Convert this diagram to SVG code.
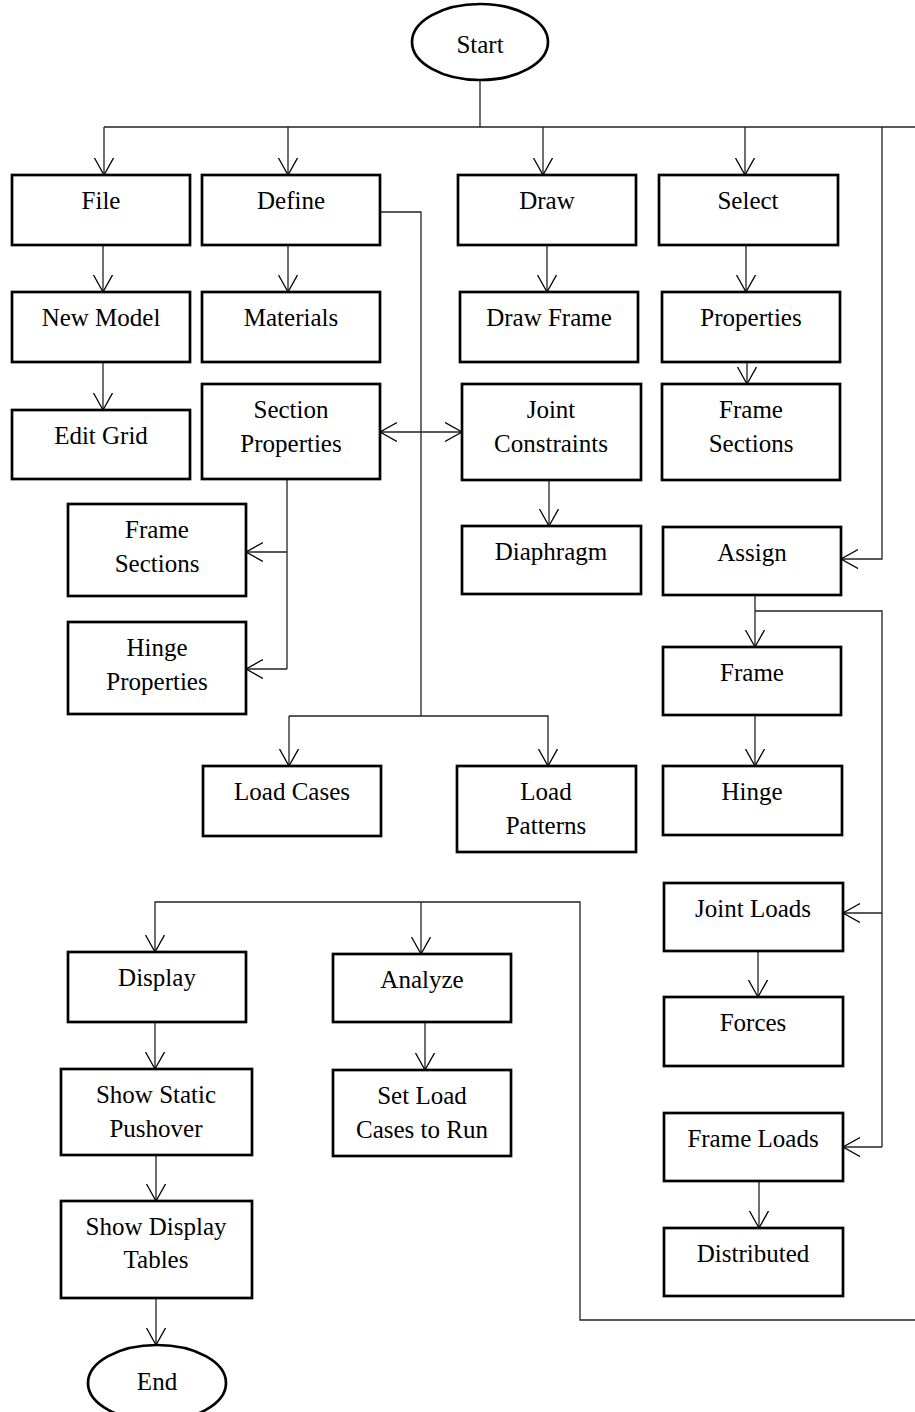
<svg xmlns="http://www.w3.org/2000/svg" width="915" height="1412" viewBox="0 0 915 1412">
<style>
.box{fill:#fff;stroke:#000;stroke-width:2.7}
.t{font-family:"Liberation Serif","Times New Roman",serif;font-size:25px;fill:#000;text-anchor:middle}
.c{fill:none;stroke:#222;stroke-width:1.3}
.a{marker-end:url(#ah)}
</style>
<defs>
<marker id="ah" markerUnits="userSpaceOnUse" markerWidth="20" markerHeight="22" refX="17" refY="10" orient="auto-start-reverse" viewBox="0 0 20 22">
<path d="M0,0.5 L17,10 L0,19.5" fill="none" stroke="#000" stroke-width="1.3"/>
</marker>
</defs>
<rect width="915" height="1412" fill="#fff"/>
<g id="connectors">
<path class="c" d="M480,80 V127"/>
<path class="c" d="M104,127 H915"/>
<path class="c a" d="M104,127 V175"/>
<path class="c a" d="M288,127 V175"/>
<path class="c a" d="M543,127 V175"/>
<path class="c a" d="M745,127 V175"/>
<path class="c a" d="M882,127 V559 H841"/>
<path class="c a" d="M103,245 V292"/>
<path class="c a" d="M103,362 V410"/>
<path class="c a" d="M288,245 V292"/>
<path class="c a" d="M547,245 V292"/>
<path class="c a" d="M746,245 V292"/>
<path class="c a" d="M747,362 V384"/>
<path class="c" d="M380,212 H421 V716"/>
<path class="c a" d="M289,716 H548 V766"/>
<path class="c a" d="M289,716 V766"/>
<path class="c a" d="M380,432 H462" marker-start="url(#ah)"/>
<path class="c" d="M287,479 V669"/>
<path class="c a" d="M287,552 H246"/>
<path class="c a" d="M287,669 H246"/>
<path class="c a" d="M549,480 V526"/>
<path class="c a" d="M755,595 V647"/>
<path class="c" d="M755,611 H882 V1147"/>
<path class="c a" d="M882,913 H843"/>
<path class="c a" d="M882,1147 H843"/>
<path class="c a" d="M755,715 V766"/>
<path class="c a" d="M758,951 V997"/>
<path class="c a" d="M759,1181 V1228"/>
<path class="c a" d="M915,1320 H580 V902 H155 V952"/>
<path class="c a" d="M421,902 V954"/>
<path class="c a" d="M155,1022 V1069"/>
<path class="c a" d="M425,1022 V1070"/>
<path class="c a" d="M156,1155 V1201"/>
<path class="c a" d="M156,1298 V1345"/>
</g>
<g id="start"><ellipse class="box" cx="480" cy="42" rx="68" ry="38"/><text class="t" x="480" y="53">Start</text></g>
<g id="file"><rect class="box" x="12" y="175" width="178" height="70"/><text class="t" x="101" y="209">File</text></g>
<g id="define"><rect class="box" x="202" y="175" width="178" height="70"/><text class="t" x="291" y="209">Define</text></g>
<g id="draw"><rect class="box" x="458" y="175" width="178" height="70"/><text class="t" x="547" y="209">Draw</text></g>
<g id="select"><rect class="box" x="659" y="175" width="179" height="70"/><text class="t" x="748" y="209">Select</text></g>
<g id="new-model"><rect class="box" x="12" y="292" width="178" height="70"/><text class="t" x="101" y="326">New Model</text></g>
<g id="materials"><rect class="box" x="202" y="292" width="178" height="70"/><text class="t" x="291" y="326">Materials</text></g>
<g id="draw-frame"><rect class="box" x="460" y="292" width="178" height="70"/><text class="t" x="549" y="326">Draw Frame</text></g>
<g id="properties"><rect class="box" x="662" y="292" width="178" height="70"/><text class="t" x="751" y="326">Properties</text></g>
<g id="edit-grid"><rect class="box" x="12" y="410" width="178" height="69"/><text class="t" x="101" y="444">Edit Grid</text></g>
<g id="section-properties"><rect class="box" x="202" y="384" width="178" height="95"/><text class="t" x="291" y="418">Section</text><text class="t" x="291" y="452">Properties</text></g>
<g id="joint-constraints"><rect class="box" x="462" y="384" width="179" height="96"/><text class="t" x="551" y="418">Joint</text><text class="t" x="551" y="452">Constraints</text></g>
<g id="frame-sections-r"><rect class="box" x="662" y="384" width="178" height="96"/><text class="t" x="751" y="418">Frame</text><text class="t" x="751" y="452">Sections</text></g>
<g id="frame-sections-l"><rect class="box" x="68" y="504" width="178" height="92"/><text class="t" x="157" y="538">Frame</text><text class="t" x="157" y="572">Sections</text></g>
<g id="hinge-properties"><rect class="box" x="68" y="622" width="178" height="92"/><text class="t" x="157" y="656">Hinge</text><text class="t" x="157" y="690">Properties</text></g>
<g id="diaphragm"><rect class="box" x="462" y="526" width="179" height="68"/><text class="t" x="551" y="560">Diaphragm</text></g>
<g id="assign"><rect class="box" x="663" y="527" width="178" height="68"/><text class="t" x="752" y="561">Assign</text></g>
<g id="frame"><rect class="box" x="663" y="647" width="178" height="68"/><text class="t" x="752" y="681">Frame</text></g>
<g id="load-cases"><rect class="box" x="203" y="766" width="178" height="70"/><text class="t" x="292" y="800">Load Cases</text></g>
<g id="load-patterns"><rect class="box" x="457" y="766" width="179" height="86"/><text class="t" x="546" y="800">Load</text><text class="t" x="546" y="834">Patterns</text></g>
<g id="hinge"><rect class="box" x="663" y="766" width="179" height="69"/><text class="t" x="752" y="800">Hinge</text></g>
<g id="joint-loads"><rect class="box" x="664" y="883" width="179" height="68"/><text class="t" x="753" y="917">Joint Loads</text></g>
<g id="forces"><rect class="box" x="664" y="997" width="179" height="69"/><text class="t" x="753" y="1031">Forces</text></g>
<g id="frame-loads"><rect class="box" x="664" y="1113" width="179" height="68"/><text class="t" x="753" y="1147">Frame Loads</text></g>
<g id="distributed"><rect class="box" x="664" y="1228" width="179" height="68"/><text class="t" x="753" y="1262">Distributed</text></g>
<g id="display"><rect class="box" x="68" y="952" width="178" height="70"/><text class="t" x="157" y="986">Display</text></g>
<g id="analyze"><rect class="box" x="333" y="954" width="178" height="68"/><text class="t" x="422" y="988">Analyze</text></g>
<g id="set-load-cases"><rect class="box" x="333" y="1070" width="178" height="86"/><text class="t" x="422" y="1104">Set Load</text><text class="t" x="422" y="1138">Cases to Run</text></g>
<g id="show-static-pushover"><rect class="box" x="61" y="1069" width="191" height="86"/><text class="t" x="156" y="1103">Show Static</text><text class="t" x="156" y="1137">Pushover</text></g>
<g id="show-display-tables"><rect class="box" x="61" y="1201" width="191" height="97"/><text class="t" x="156" y="1235">Show Display</text><text class="t" x="156" y="1268">Tables</text></g>
<g id="end"><ellipse class="box" cx="157" cy="1383" rx="69" ry="38"/><text class="t" x="157" y="1390">End</text></g>
</svg>
